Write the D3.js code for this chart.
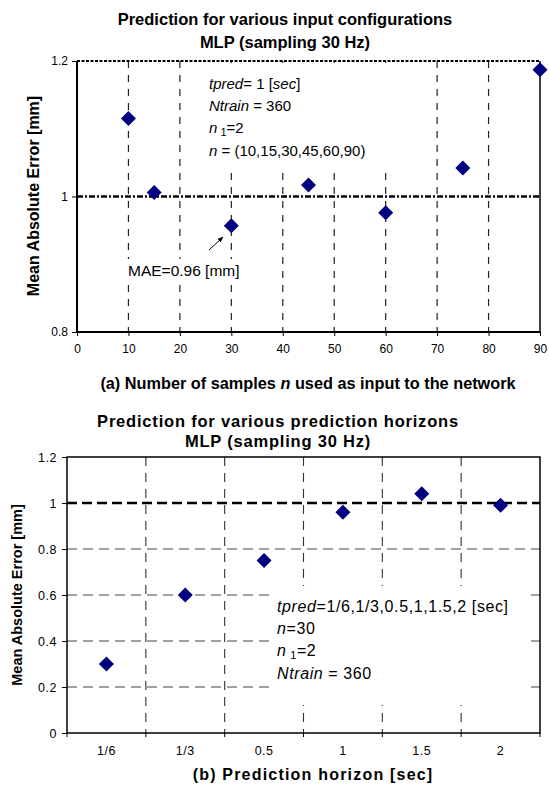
<!DOCTYPE html>
<html lang="en">
<head>
<meta charset="utf-8">
<title>MLP prediction error</title>
<script src="https://d3js.org/d3.v7.min.js"></script>
<style>
  body { margin: 0; background: #fff; }
  text { font-family: Arial, "Liberation Sans", sans-serif; fill: #000; }
  .bold { font-weight: bold; }
</style>
</head>
<body>
<script>
// ---- data ----
var nSamples = [10, 15, 30, 45, 60, 75, 90];
var maeInput = [1.115, 1.006, 0.957, 1.017, 0.976, 1.042, 1.187];
var xTicksA = [0, 10, 20, 30, 40, 50, 60, 70, 80, 90];
var yTicksA = [0.8, 1, 1.2];

var horizons = ["1/6", "1/3", "0.5", "1", "1.5", "2"];
var maeHorizon = [0.30, 0.60, 0.75, 0.96, 1.04, 0.99];
var yTicksB = [0, 0.2, 0.4, 0.6, 0.8, 1, 1.2];

var W = 549, H = 786;
var navy = "#000080";

var svg = d3.select("body").append("svg")
    .attr("width", W).attr("height", H);

function diamond(r) {
    return "M0," + (-r) + "L" + r + ",0L0," + r + "L" + (-r) + ",0Z";
}

// ================= chart (a) =================
var xA = d3.scaleLinear().domain([0, 90]).range([77, 540]);
var yA = d3.scaleLinear().domain([0.8, 1.2]).range([332, 61]);
var gA = svg.append("g");

gA.append("text").attr("class", "bold").attr("x", 285).attr("y", 25)
    .attr("text-anchor", "middle").style("font-size", "16.5px")
    .text("Prediction for various input configurations");
gA.append("text").attr("class", "bold").attr("x", 285).attr("y", 48)
    .attr("text-anchor", "middle").style("font-size", "16.5px")
    .text("MLP (sampling 30 Hz)");

// vertical grid
gA.selectAll(".vgrid").data(xTicksA.slice(1, -1)).enter().append("line")
    .attr("x1", d => xA(d)).attr("x2", d => xA(d))
    .attr("y1", yA(1.2)).attr("y2", yA(0.8))
    .attr("stroke", "#222").attr("stroke-width", 1.2)
    .attr("stroke-dasharray", "7,7");

// white boxes behind labels
gA.append("rect").attr("x", 197).attr("y", 63).attr("width", 213).attr("height", 107)
    .attr("fill", "#fff");
gA.append("rect").attr("x", 125).attr("y", 259).attr("width", 122).attr("height", 22)
    .attr("fill", "#fff");

// annotation
var ann = gA.append("text").attr("x", 209).attr("y", 89).style("font-size", "15px");
ann.append("tspan").style("font-style", "italic").text("tpred");
ann.append("tspan").text("= 1 [");
ann.append("tspan").style("font-style", "italic").text("sec");
ann.append("tspan").text("]");
var ann2 = gA.append("text").attr("x", 209).attr("y", 111).style("font-size", "15px");
ann2.append("tspan").style("font-style", "italic").text("Ntrain");
ann2.append("tspan").text(" = 360");
var ann3 = gA.append("text").attr("x", 209).attr("y", 133).style("font-size", "15px");
ann3.append("tspan").style("font-style", "italic").text("n");
ann3.append("tspan").attr("dy", 3).style("font-size", "11px").text(" 1");
ann3.append("tspan").attr("dy", -3).text("=2");
var ann4 = gA.append("text").attr("x", 209).attr("y", 156).style("font-size", "15px");
ann4.append("tspan").style("font-style", "italic").text("n");
ann4.append("tspan").text(" = (10,15,30,45,60,90)");

gA.append("text").attr("x", 128).attr("y", 276).style("font-size", "15.5px")
    .text("MAE=0.96 [mm]");

// arrow
svg.append("defs").append("marker").attr("id", "ah")
    .attr("viewBox", "0 0 10 10").attr("refX", 9).attr("refY", 5)
    .attr("markerWidth", 6).attr("markerHeight", 6).attr("orient", "auto")
    .append("path").attr("d", "M0,1L10,5L0,9Z").attr("fill", "#000");
gA.append("line").attr("x1", 209).attr("y1", 250).attr("x2", 223).attr("y2", 237)
    .attr("stroke", "#000").attr("stroke-width", 1).attr("marker-end", "url(#ah)");

// reference lines
gA.append("line").attr("x1", xA(0)).attr("x2", xA(90))
    .attr("y1", yA(1.2)).attr("y2", yA(1.2))
    .attr("stroke", "#000").attr("stroke-width", 2).attr("stroke-dasharray", "3,1.5");
gA.append("line").attr("x1", xA(0)).attr("x2", xA(90))
    .attr("y1", yA(1)).attr("y2", yA(1))
    .attr("stroke", "#000").attr("stroke-width", 2.5).attr("stroke-dasharray", "6,2,2,2");

// axes
var axXA = d3.axisBottom(xA).tickValues(xTicksA).tickSize(4).tickPadding(8)
    .tickFormat(d3.format("d"));
var gxA = gA.append("g").attr("transform", "translate(0," + yA(0.8) + ")").call(axXA);
var axYA = d3.axisLeft(yA).tickValues(yTicksA).tickSize(5).tickPadding(4)
    .tickFormat(d => d === 1 ? "1" : d3.format(".1f")(d));
var gyA = gA.append("g").attr("transform", "translate(" + xA(0) + ",0)").call(axYA);
[gxA, gyA].forEach(function(g) {
    g.select(".domain").remove();
    g.selectAll("text").style("font-size", "12px").style("font-family", "Arial, 'Liberation Sans', sans-serif").attr("fill", "#000");
    g.selectAll("line").attr("stroke", "#000");
});
gA.append("line").attr("x1", xA(0)).attr("x2", xA(90)).attr("y1", yA(0.8)).attr("y2", yA(0.8))
    .attr("stroke", "#000").attr("stroke-width", 2);
gA.append("line").attr("x1", xA(0)).attr("x2", xA(0)).attr("y1", yA(1.2)).attr("y2", yA(0.8))
    .attr("stroke", "#000").attr("stroke-width", 2);
gA.append("line").attr("x1", xA(90)).attr("x2", xA(90)).attr("y1", yA(1.2)).attr("y2", yA(0.8))
    .attr("stroke", "#000").attr("stroke-width", 1.5);

// points
gA.selectAll(".pt").data(nSamples).enter().append("path")
    .attr("d", diamond(7.5))
    .attr("transform", (d, i) => "translate(" + xA(d) + "," + yA(maeInput[i]) + ")")
    .attr("fill", navy);

// axis titles
gA.append("text").attr("class", "bold")
    .attr("transform", "translate(39,196) rotate(-90)")
    .attr("text-anchor", "middle").style("font-size", "16px")
    .text("Mean Absolute Error [mm]");
var tA = gA.append("text").attr("class", "bold").attr("x", 308).attr("y", 389)
    .attr("text-anchor", "middle").style("font-size", "16.3px");
tA.append("tspan").text("(a) Number of samples ");
tA.append("tspan").style("font-style", "italic").text("n");
tA.append("tspan").text(" used as input to the network");

// ================= chart (b) =================
var xB = d3.scaleBand().domain(horizons).range([67, 540]);
var yB = d3.scaleLinear().domain([0, 1.2]).range([733, 457]);
var gB = svg.append("g");

gB.append("text").attr("class", "bold").attr("x", 278).attr("y", 427)
    .attr("text-anchor", "middle").style("font-size", "16.5px")
    .style("letter-spacing", "0.8px")
    .text("Prediction for various prediction horizons");
gB.append("text").attr("class", "bold").attr("x", 278).attr("y", 447)
    .attr("text-anchor", "middle").style("font-size", "16.5px")
    .style("letter-spacing", "0.8px")
    .text("MLP (sampling 30 Hz)");

// horizontal grid
gB.selectAll(".hgrid").data(yTicksB.filter(d => d > 0 && d < 1)).enter().append("line")
    .attr("x1", xB.range()[0]).attr("x2", xB.range()[1])
    .attr("y1", d => yB(d)).attr("y2", d => yB(d))
    .attr("stroke", "#444").attr("stroke-width", 1).attr("stroke-dasharray", "10,6");
// vertical grid at category boundaries
var bounds = horizons.slice(1).map(h => xB(h));
gB.selectAll(".vgrid").data(bounds).enter().append("line")
    .attr("x1", d => d).attr("x2", d => d)
    .attr("y1", yB(1.2)).attr("y2", yB(0))
    .attr("stroke", "#333").attr("stroke-width", 1.1).attr("stroke-dasharray", "9,7");

// white box behind annotation
gB.append("rect").attr("x", 273).attr("y", 586).attr("width", 255).attr("height", 119)
    .attr("fill", "#fff");

var b1 = gB.append("text").attr("x", 277).attr("y", 612).style("font-size", "16px")
    .style("letter-spacing", "0.6px");
b1.append("tspan").style("font-style", "italic").text("tpred");
b1.append("tspan").text("=1/6,1/3,0.5,1,1.5,2 [sec]");
var b2 = gB.append("text").attr("x", 277).attr("y", 634).style("font-size", "16px")
    .style("letter-spacing", "0.6px");
b2.append("tspan").style("font-style", "italic").text("n");
b2.append("tspan").text("=30");
var b3 = gB.append("text").attr("x", 277).attr("y", 656).style("font-size", "16px")
    .style("letter-spacing", "0.6px");
b3.append("tspan").style("font-style", "italic").text("n");
b3.append("tspan").attr("dy", 3).style("font-size", "11px").text(" 1");
b3.append("tspan").attr("dy", -3).text("=2");
var b4 = gB.append("text").attr("x", 277).attr("y", 679).style("font-size", "16px")
    .style("letter-spacing", "0.6px");
b4.append("tspan").style("font-style", "italic").text("Ntrain");
b4.append("tspan").text(" = 360");

// reference line at 1
gB.append("line").attr("x1", xB.range()[0]).attr("x2", xB.range()[1])
    .attr("y1", yB(1)).attr("y2", yB(1))
    .attr("stroke", "#000").attr("stroke-width", 2.5).attr("stroke-dasharray", "10,5");

// axes
var axYB = d3.axisLeft(yB).tickValues(yTicksB).tickSize(5).tickPadding(5)
    .tickFormat(d => (d === 0 || d === 1) ? d3.format("d")(d) : d3.format(".1f")(d));
var gyB = gB.append("g").attr("transform", "translate(" + xB.range()[0] + ",0)").call(axYB);
var axXB = d3.axisBottom(xB).tickSize(0).tickPadding(13);
var gxB = gB.append("g").attr("transform", "translate(0," + yB(0) + ")").call(axXB);
[gxB, gyB].forEach(function(g) {
    g.select(".domain").remove();
    g.selectAll("text").style("font-size", "12.5px").style("letter-spacing", "0.5px")
        .style("font-family", "Arial, 'Liberation Sans', sans-serif").attr("fill", "#000");
    g.selectAll("line").attr("stroke", "#000");
});
// tick marks at category boundaries
gB.selectAll(".btick").data([xB.range()[0]].concat(bounds, [xB.range()[1]])).enter().append("line")
    .attr("x1", d => d).attr("x2", d => d)
    .attr("y1", yB(0)).attr("y2", yB(0) + 4)
    .attr("stroke", "#000");
gB.append("rect").attr("x", xB.range()[0]).attr("y", yB(1.2))
    .attr("width", xB.range()[1] - xB.range()[0]).attr("height", yB(0) - yB(1.2))
    .attr("fill", "none").attr("stroke", "#000").attr("stroke-width", 1.5);

gB.selectAll(".pt").data(horizons).enter().append("path")
    .attr("d", diamond(7.5))
    .attr("transform", (d, i) => "translate(" + (xB(d) + xB.bandwidth() / 2) + "," + yB(maeHorizon[i]) + ")")
    .attr("fill", navy);

gB.append("text").attr("class", "bold")
    .attr("transform", "translate(22,595) rotate(-90)")
    .attr("text-anchor", "middle").style("font-size", "14.5px")
    .text("Mean Absolute Error [mm]");
gB.append("text").attr("class", "bold").attr("x", 313).attr("y", 780)
    .attr("text-anchor", "middle").style("font-size", "16px")
    .style("letter-spacing", "1.2px")
    .text("(b) Prediction horizon [sec]");
</script>
</body>
</html>
